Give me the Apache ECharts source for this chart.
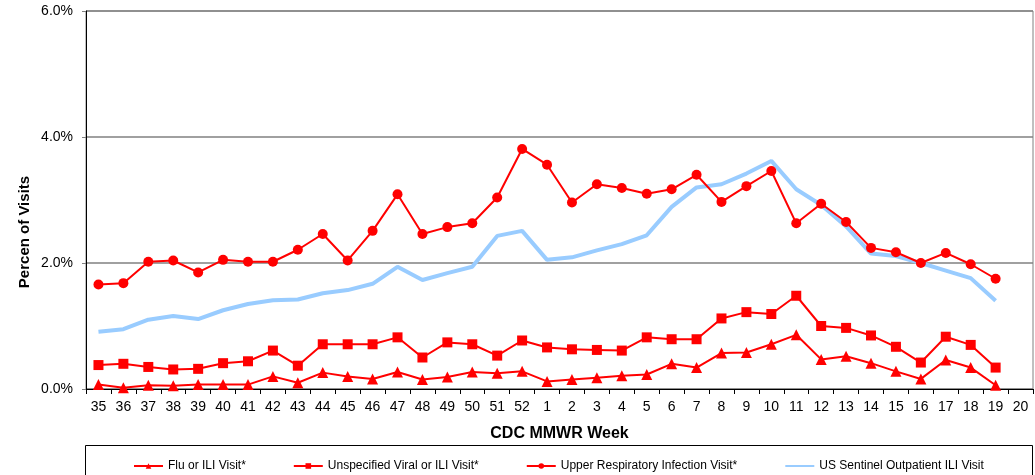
<!DOCTYPE html>
<html>
<head>
<meta charset="utf-8">
<script src="https://cdn.jsdelivr.net/npm/echarts@6/dist/echarts.min.js"></script>
<style>html,body{margin:0;padding:0;background:#fff}#c{width:1035px;height:475px}</style>
</head>
<body>
<div id="c"></div>
<script>
var weeks = ['35','36','37','38','39','40','41','42','43','44','45','46','47','48','49','50','51','52','1','2','3','4','5','6','7','8','9','10','11','12','13','14','15','16','17','18','19','20'];
var yTicks = [0, 2, 4, 6];
var flu = [0.07,0.02,0.06,0.05,0.07,0.07,0.07,0.20,0.10,0.26,0.20,0.16,0.27,0.15,0.19,0.27,0.25,0.28,0.12,0.15,0.18,0.21,0.23,0.40,0.34,0.57,0.58,0.71,0.86,0.47,0.52,0.41,0.28,0.16,0.46,0.34,0.06,null];
var unspecified = [0.38,0.40,0.35,0.31,0.32,0.41,0.44,0.61,0.37,0.71,0.71,0.71,0.82,0.50,0.74,0.71,0.53,0.77,0.66,0.63,0.62,0.61,0.82,0.79,0.79,1.12,1.22,1.19,1.48,1.00,0.97,0.85,0.67,0.42,0.83,0.70,0.34,null];
var uri = [1.66,1.68,2.02,2.04,1.85,2.05,2.02,2.02,2.21,2.46,2.04,2.51,3.09,2.46,2.57,2.63,3.04,3.81,3.56,2.96,3.25,3.19,3.10,3.17,3.40,2.97,3.22,3.46,2.63,2.94,2.65,2.24,2.17,2.00,2.16,1.98,1.75,null];
var sentinel = [0.91,0.95,1.10,1.16,1.11,1.25,1.35,1.41,1.42,1.52,1.57,1.67,1.94,1.73,1.84,1.94,2.43,2.51,2.05,2.09,2.20,2.30,2.44,2.89,3.20,3.25,3.42,3.62,3.17,2.92,2.58,2.15,2.11,2.00,1.88,1.76,1.40,null];
var names = ['Flu or ILI Visit*','Unspecified Viral or ILI Visit*','Upper Respiratory Infection Visit*','US Sentinel Outpatient ILI Visit'];

var FONT = '"Liberation Sans", Arial, sans-serif';
var chart = echarts.init(document.getElementById('c'));
var red = '#ff0000';
function redSeries(name, data, symbol, size) {
  return {
    name: name, type: 'line', data: data, symbol: symbol, symbolSize: size,
    lineStyle: {color: red, width: 2}, itemStyle: {color: red},
    showAllSymbol: true, animation: false, connectNulls: false, z: 3
  };
}
chart.setOption({
  animation: false,
  textStyle: {fontFamily: FONT},
  grid: {left: 86, right: 2, top: 11, bottom: 86, show: true, borderColor: '#808080', borderWidth: 1, containLabel: false},
  xAxis: {
    type: 'category', data: weeks, boundaryGap: true,
    axisLine: {lineStyle: {color: '#000', width: 1}},
    axisTick: {show: true, length: 5, lineStyle: {color: '#000'}},
    axisLabel: {color: '#000', fontSize: 14, margin: 11, interval: 0, fontFamily: FONT},
    name: 'CDC MMWR Week', nameLocation: 'middle', nameGap: 37,
    nameTextStyle: {color: '#000', fontSize: 16, fontWeight: 'bold', fontFamily: FONT}
  },
  yAxis: {
    type: 'value', min: yTicks[0], max: yTicks[yTicks.length - 1], interval: 2,
    axisLine: {show: true, lineStyle: {color: '#000', width: 1}},
    axisTick: {show: true, length: 4, lineStyle: {color: '#808080'}},
    axisLabel: {color: '#000', fontSize: 14, margin: 13, fontFamily: FONT, formatter: function (v) { return v.toFixed(1) + '%'; }},
    splitLine: {show: true, lineStyle: {color: '#808080', width: 1.5}}
  },
  legend: {
    data: [names[0], names[1], names[2], {name: names[3], itemStyle: {opacity: 0}}],
    left: 133, top: 460, padding: 0, itemWidth: 29, itemHeight: 7, itemGap: 47,
    textStyle: {color: '#000', fontSize: 12, fontFamily: FONT}
  },
  graphic: [
    {type: 'rect', shape: {x: 85.5, y: 445.5, width: 947, height: 40}, style: {fill: 'none', stroke: '#000', lineWidth: 1}, z: -1},
    {type: 'text', x: 25, y: 232, rotation: Math.PI / 2, style: {text: 'Percen of Visits', font: 'bold 15px "Liberation Sans", Arial, sans-serif', fill: '#000', textAlign: 'center', textVerticalAlign: 'middle'}}
  ],
  series: [
    redSeries(names[0], flu, 'triangle', 11),
    redSeries(names[1], unspecified, 'rect', 10),
    redSeries(names[2], uri, 'circle', 10),
    {name: names[3], type: 'line', data: sentinel, symbol: 'none', lineStyle: {color: '#99ccff', width: 4}, itemStyle: {color: '#99ccff'}, z: 2}
  ]
});
</script>
</body>
</html>
